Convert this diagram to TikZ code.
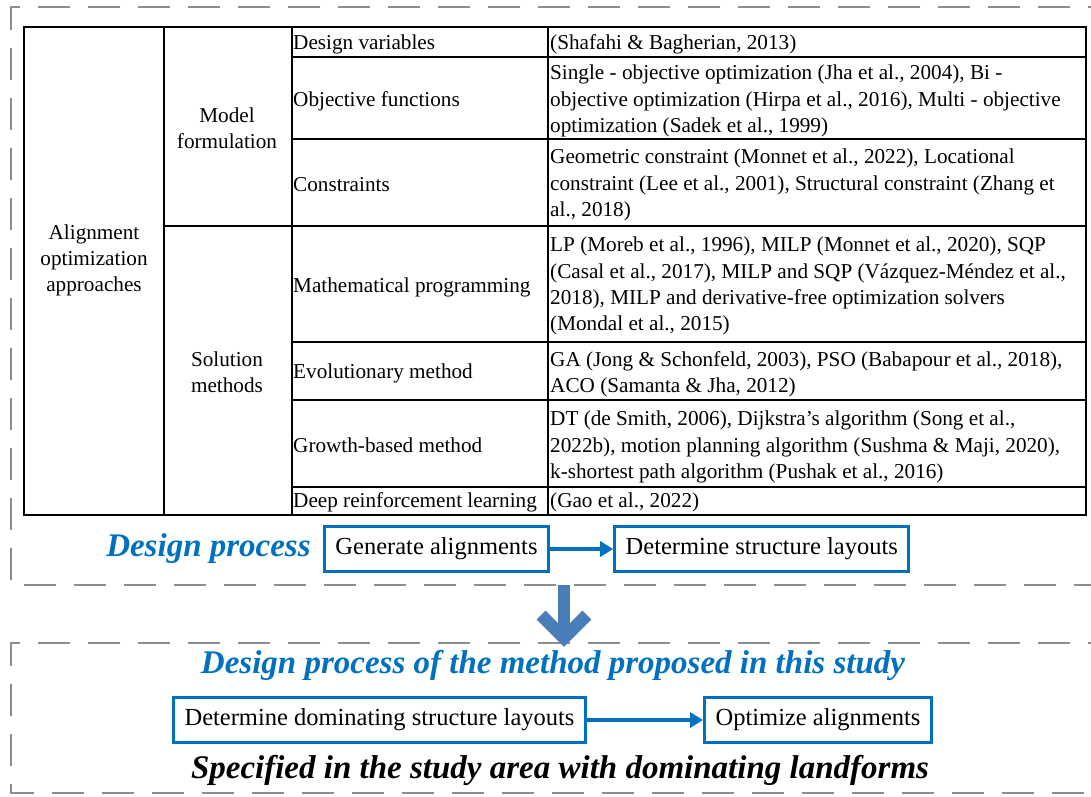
\documentclass[tikz,border=0pt]{standalone}
\usepackage{fontspec}
\setmainfont{Liberation Serif}
\usepackage{xcolor}
\usepackage{tikz}
\usetikzlibrary{positioning}
\usetikzlibrary{arrows.meta}

\definecolor{procblue}{HTML}{0070C0}
\definecolor{arrowblue}{HTML}{4A7EBB}
\definecolor{framegray}{HTML}{8C8C8C}

\begin{document}
\begin{tikzpicture}[x=1pt, y=-1pt,
    celltext/.style={anchor=west, inner sep=0pt, align=left,
        font=\fontsize{21.2}{26.2}\selectfont},
    headcell/.style={inner sep=0pt, align=center,
        font=\fontsize{21.2}{26}\selectfont},
    procbox/.style={draw=procblue, line width=3.2pt, inner xsep=11pt,
        minimum height=45pt, font=\fontsize{24.5}{28}\selectfont},
    flowarrow/.style={draw=procblue, line width=3.5pt,
        -{Triangle[length=13pt,width=15pt]}},
    headline/.style={inner sep=0pt, text=procblue,
        font=\fontsize{33}{36}\selectfont\bfseries\itshape},
    dashframe/.style={draw=framegray, line width=2.8pt,
        dash pattern=on 32pt off 18pt}]

        \def\d{63pt}

        \useasboundingbox (0,0) rectangle (1091,796);
        \clip (0,0) rectangle (1091,796);

        % dashed frames round the two design processes
        \draw[dashframe] (1120,7) -| (11,585) -- (1120,585);
        \draw[dashframe] (1120,643) -| (11,793) -- (1120,793);

        % grid of the table
        \begin{scope}[line width=1.3pt]
            \draw (24,27) rectangle (1086,515);
            \foreach\x in {164, 292, 548}
            \draw (\x,27) -- (\x,515);
            \draw (164,226) -- (1086,226);
            \foreach\y in {57, 139, 342, 400, 487}
            \draw (292,\y) -- (1086,\y);
        \end{scope}

        % first two columns
        \node[headcell] (AOA) at (94,260)
        {Alignment\\optimization\\approaches};
        \node[headcell] (MF) at (227,128) {Model\\formulation};
        \node[headcell] (SM) at (227,372) {Solution\\methods};

        % third column
        \node[celltext] (DV) at (293,44) {Design variables};
        \node[celltext] (OF) at (293,101) {Objective functions};
        \node[celltext] (CT) at (293,185) {Constraints};
        \node[celltext] (MP) at (293,287) {Mathematical programming};
        \node[celltext] (EM) at (293,373) {Evolutionary method};
        \node[celltext] (GB) at (293,445) {Growth-based method};
        \node[celltext] (DR) at (293,502) {Deep reinforcement learning};

        % fourth column
        \node[celltext] (rDV) at (550,44) {(Shafahi \& Bagherian, 2013)};
        \node[celltext] (rOF) at (550,101)
        {Single - objective optimization (Jha et al., 2004), Bi -\\
         objective optimization (Hirpa et al., 2016), Multi - objective\\
         optimization (Sadek et al., 1999)};
        \node[celltext] (rCT) at (550,185)
        {Geometric constraint (Monnet et al., 2022), Locational\\
         constraint (Lee et al., 2001), Structural constraint (Zhang et\\
         al., 2018)};
        \node[celltext] (rMP) at (550,286)
        {LP (Moreb et al., 1996), MILP (Monnet et al., 2020), SQP\\
         (Casal et al., 2017), MILP and SQP (Vázquez-Méndez et al.,\\
         2018), MILP and derivative-free optimization solvers\\
         (Mondal et al., 2015)};
        \node[celltext] (rEM) at (550,374)
        {GA (Jong \& Schonfeld, 2003), PSO (Babapour et al., 2018),\\
         ACO (Samanta \& Jha, 2012)};
        \node[celltext] (rGB) at (550,447)
        {DT (de Smith, 2006), Dijkstra’s algorithm (Song et al.,\\
         2022b), motion planning algorithm (Sushma \& Maji, 2020),\\
         k-shortest path algorithm (Pushak et al., 2016)};
        \node[celltext] (rDR) at (550,502) {(Gao et al., 2022)};

        % design process
        \node[procbox] (GA) at (436.5,549) {Generate alignments};
        \node[procbox] (DS) [right=\d of GA] {Determine structure layouts};
        \node[headline] (DP) [left=12pt of GA] {Design process};
        \draw[flowarrow] (GA) -- (DS);

        % big arrow between the frames
        \begin{scope}[draw=arrowblue, line width=12.5pt]
            \draw (564,585) -- (564,632);
            \draw[miter limit=4] (541,615) -- (564,638) -- (587,615);
        \end{scope}

        % design process of this study
        \node[headline] (DPM) at (553,665)
        {Design process of the method proposed in this study};
        \node[procbox] (DD) at (379.5,720)
        {Determine dominating structure layouts};
        \node[procbox] (OA) [right=116pt of DD] {Optimize alignments};
        \draw[flowarrow] (DD) -- (OA);
        \node[headline, text=black] (SA) at (560,770)
        {Specified in the study area with dominating landforms};

\end{tikzpicture}
\end{document}
